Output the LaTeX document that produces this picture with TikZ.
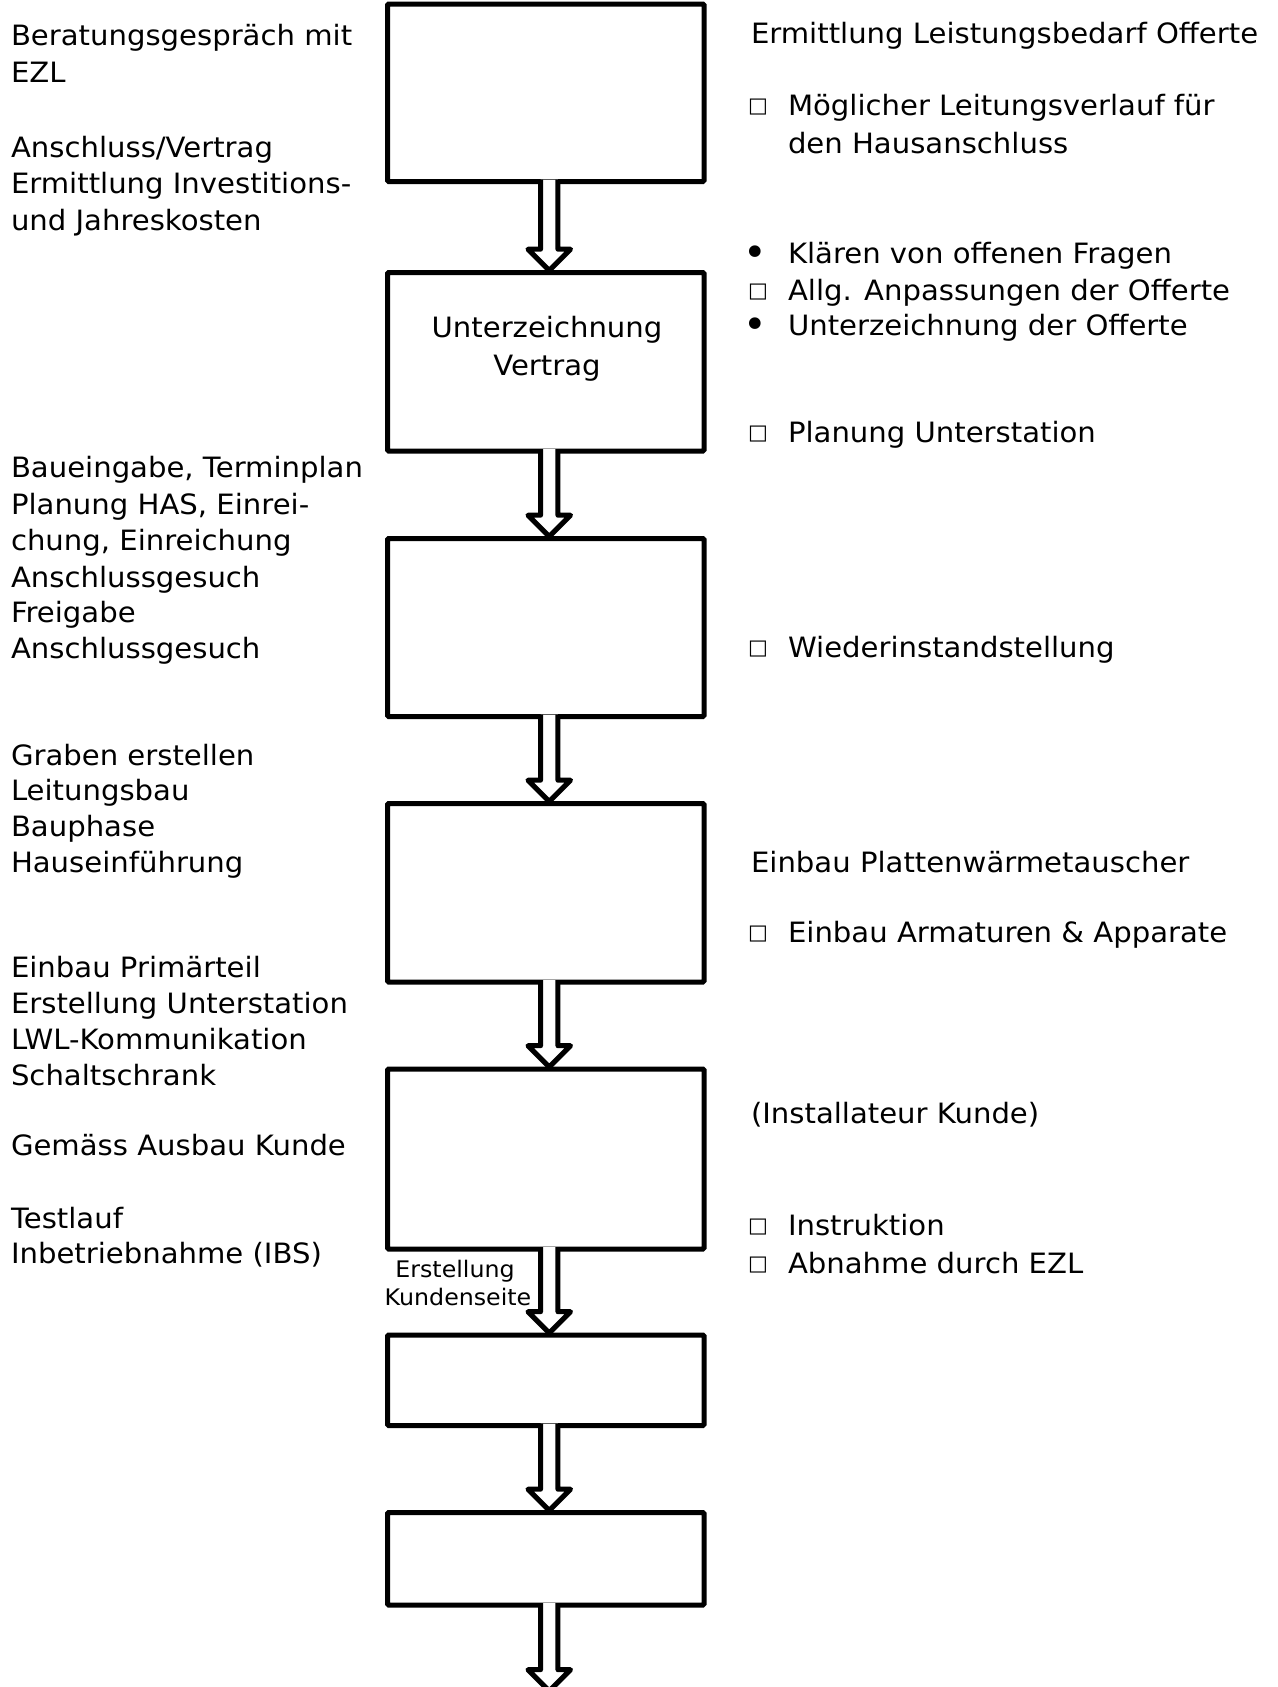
\documentclass[tikz,border=0pt]{standalone}
\usepackage{fontspec}
\setmainfont[FakeStretch=1.04]{DejaVu Sans}
\newfontfamily\bulfont{DejaVu Sans}
\usetikzlibrary{fit,calc}
\newcommand{\hollowarrow}[2]{%
  \filldraw[arrowline] let \p1=#1, \p2=#2 in
    (\x1-2.6pt,\y1+1pt) -- (\x1-2.6pt,\y2+11.65pt) -- (\x1-8.9pt,\y2+11.65pt)
    -- (\x1+1.75pt,\y2+1pt) -- (\x1+12.4pt,\y2+11.65pt) -- (\x1+6.1pt,\y2+11.65pt)
    -- (\x1+6.1pt,\y1+1pt);}
\newcommand{\sqbullet}{{\bulfont\fontsize{10.5pt}{10.5pt}\selectfont □}}
\newcommand{\dotbullet}{{\bulfont\fontsize{20pt}{20pt}\selectfont •}}
\begin{document}
\begin{tikzpicture}[x=0.5pt,y=-0.5pt,
  txt/.style={anchor=base west,inner sep=0pt,outer sep=0pt,font=\fontsize{14pt}{17pt}\selectfont},
  ctxt/.style={anchor=base,inner sep=0pt,outer sep=0pt,font=\fontsize{14pt}{17pt}\selectfont},
  smalltxt/.style={anchor=base,inner sep=0pt,outer sep=0pt,font=\fontsize{11.4pt}{14pt}\selectfont},
  bul/.style={anchor=center,inner sep=0pt,outer sep=0pt},
  stepbox/.style={draw=black,line width=2.5pt,inner sep=0pt,outer sep=0pt,fill=white,rounded corners=0.6pt},
  arrowline/.style={draw=black,fill=white,line width=2.5pt,line join=round}
]
\fill[white] (0,0) rectangle (1278,1687);
\useasboundingbox (0,0) rectangle (1278,1687);
\clip (0,0) rectangle (1278,1687);

% boxes
\node[stepbox,fit={(387.5,4) (704,181.5)}] (b1) {};
\node[stepbox,fit={(387.5,272.5) (704,451)}] (b2) {};
\node[stepbox,fit={(387.5,538.5) (704,716.5)}] (b3) {};
\node[stepbox,fit={(387.5,803.5) (704,982)}] (b4) {};
\node[stepbox,fit={(387.5,1069) (704,1249)}] (b5) {};
\node[stepbox,fit={(387.5,1335) (704,1425.5)}] (b6) {};
\node[stepbox,fit={(387.5,1512.5) (704,1605)}] (b7) {};
\coordinate (fin) at (545.75,1693);

% arrows
\hollowarrow{(b1.south)}{(b2.north)}
\hollowarrow{(b2.south)}{(b3.north)}
\hollowarrow{(b3.south)}{(b4.north)}
\hollowarrow{(b4.south)}{(b5.north)}
\hollowarrow{(b5.south)}{(b6.north)}
\hollowarrow{(b6.south)}{(b7.north)}
\hollowarrow{(b7.south)}{(fin)}

% box text
\node[ctxt] (t2a) at (547,337) {Unterzeichnung};
\node[ctxt] (t2b) at (547,375) {Vertrag};
\node[smalltxt] (k1) at (455,1277) {Erstellung};
\node[smalltxt] (k2) at (458,1305) {Kundenseite};

% left column
\node[txt] (l1) at (11,45) {Beratungsgespräch mit};
\node[txt] (l2) at (11,82) {EZL};
\node[txt] (l3) at (11,157) {Anschluss/Vertrag};
\node[txt] (l4) at (11,193) {Ermittlung Investitions-};
\node[txt] (l5) at (11,230) {und Jahreskosten};
\node[txt] (l6) at (11,477) {Baueingabe, Terminplan};
\node[txt] (l7) at (11,514) {Planung HAS, Einrei-};
\node[txt] (l8) at (11,550) {chung, Einreichung};
\node[txt] (l9) at (11,587) {Anschlussgesuch};
\node[txt] (l10) at (11,622) {Freigabe};
\node[txt] (l11) at (11,658) {Anschlussgesuch};
\node[txt] (l12) at (11,765) {Graben erstellen};
\node[txt] (l13) at (11,800) {Leitungsbau};
\node[txt] (l14) at (11,836) {Bauphase};
\node[txt] (l15) at (11,872) {Hauseinführung};
\node[txt] (l16) at (11,977) {Einbau Primärteil};
\node[txt] (l17) at (11,1013) {Erstellung Unterstation};
\node[txt] (l18) at (11,1049) {LWL-Kommunikation};
\node[txt] (l19) at (11,1085) {Schaltschrank};
\node[txt] (l20) at (11,1155) {Gemäss Ausbau Kunde};
\node[txt] (l21) at (11,1228) {Testlauf};
\node[txt] (l22) at (11,1263) {Inbetriebnahme (IBS)};

% right column
\node[txt] (r1) at (751,43) {Ermittlung Leistungsbedarf Offerte};
\node[bul] (s1) at (758,107) {\sqbullet};
\node[txt] (r2) at (788,115) {Möglicher Leitungsverlauf für};
\node[txt] (r3) at (788,153) {den Hausanschluss};
\node[bul] (d1) at (755.5,256) {\dotbullet};
\node[txt] (r4) at (788,263) {Klären von offenen Fragen};
\node[bul] (s2) at (758,292) {\sqbullet};
\node[txt] (r5) at (788,300) {Allg. Anpassungen der Offerte};
\node[bul] (d2) at (755.5,328) {\dotbullet};
\node[txt] (r6) at (788,335) {Unterzeichnung der Offerte};
\node[bul] (s3) at (758,434) {\sqbullet};
\node[txt] (r7) at (788,442) {Planung Unterstation};
\node[bul] (s4) at (758,649) {\sqbullet};
\node[txt] (r8) at (788,657) {Wiederinstandstellung};
\node[txt] (r9) at (751,872) {Einbau Plattenwärmetauscher};
\node[bul] (s5) at (758,934) {\sqbullet};
\node[txt] (r10) at (788,942) {Einbau Armaturen \& Apparate};
\node[txt] (r11) at (751,1123) {(Installateur Kunde)};
\node[bul] (s6) at (758,1227) {\sqbullet};
\node[txt] (r12) at (788,1235) {Instruktion};
\node[bul] (s7) at (758,1265) {\sqbullet};
\node[txt] (r13) at (788,1273) {Abnahme durch EZL};
\end{tikzpicture}
\end{document}
